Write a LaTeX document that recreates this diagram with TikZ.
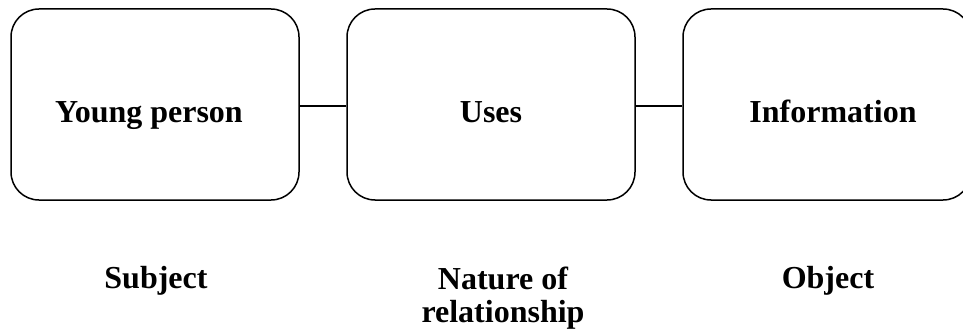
\documentclass[tikz,border=0pt]{standalone}
\usepackage{fontspec}
\setmainfont{Liberation Serif}
\begin{document}
\begin{tikzpicture}[x=1pt,y=-1pt,
  stage/.style={draw=black, line width=1.5pt, rounded corners=28pt,
    minimum width=288pt, minimum height=191pt, inner sep=0pt},
  word/.style={anchor=base, inner sep=0pt, align=center,
    font=\fontsize{32}{33}\selectfont\bfseries},
  link/.style={draw=black, line width=1.2pt}]
  \clip (0,0) rectangle (963,334);
  % the three stages of the relation
  \node[stage] (subj) at (155,104.5) {};
  \node[stage] (rel)  at (491,104.5) {};
  \node[stage] (obj)  at (827,104.5) {};
  \node[word] (tsubj) at (149,122) {Young person};
  \node[word] (trel)  at (491,122) {Uses};
  \node[word] (tobj)  at (833,122) {Information};
  % connectors between stages
  \draw[link] (subj.east |- 0,106) -- (rel.west |- 0,106);
  \draw[link] (rel.east |- 0,106) -- (obj.west |- 0,106);
  % role labels underneath (base anchor sits on the last line)
  \node[word] (lsubj) at (156,288) {Subject};
  \node[word] (lrel)  at (503,322) {Nature of\\relationship};
  \node[word] (lobj)  at (828,288) {Object};
\end{tikzpicture}
\end{document}
